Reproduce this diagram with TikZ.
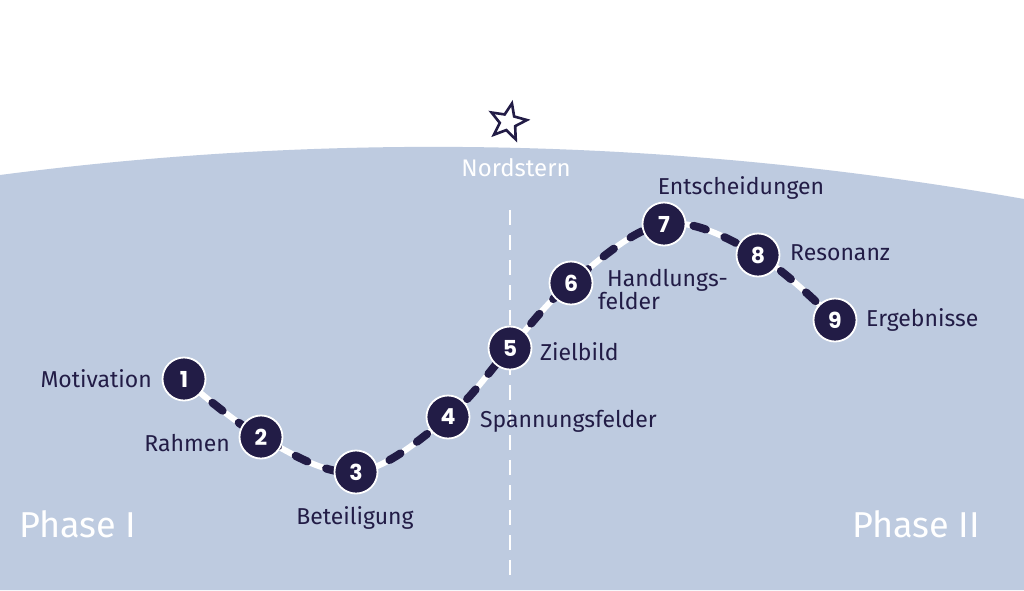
\documentclass[tikz,border=0pt]{standalone}
\usepackage{fontspec}
\usetikzlibrary{shapes.geometric}
\newfontfamily\handfont{Fira Sans}
\newfontfamily\numfont{Poppins}
\definecolor{bgblue}{HTML}{BECBE0}
\definecolor{navy}{HTML}{221C46}
\begin{document}
\begin{tikzpicture}[x=1pt,y=-1pt,
  stepnode/.style={circle, fill=navy, draw=white, line width=1.8pt, minimum size=43pt, inner sep=0pt, text=white, font=\numfont\bfseries\fontsize{22}{22}\selectfont},
  lbl/.style={text=navy, font=\handfont\fontsize{23}{23}\selectfont, inner sep=0pt},
  wlbl/.style={text=white, font=\handfont\fontsize{24}{24}\selectfont, inner sep=0pt},
  phaselbl/.style={text=white, font=\handfont\fontsize{36}{36}\selectfont, inner sep=0pt},
  pathwhite/.style={white, line width=6pt},
  pathdash/.style={navy, line width=8pt, line cap=round, dash pattern=on 13pt off 20pt, dash phase=-4pt},
  axisline/.style={white, line width=2.4pt, dash pattern=on 15pt off 10pt}
]
\useasboundingbox (0,0) rectangle (1024,590);
\fill[white] (0,0) rectangle (1024,590);
% blue hill
\fill[bgblue] (0,175) .. controls (342,130.5) and (685,139) .. (1024,199) -- (1024,590) -- (0,590) -- cycle;
% star
\node[star, star points=5, star point ratio=2.3, draw=navy, fill=white, line width=2.6pt, minimum size=38pt, rotate=-12, inner sep=0pt] (star) at (508,122) {};
\node[wlbl] (nord) at (516,168) {Nordstern};
% vertical divider
\coordinate (vtop) at (510,210);
\coordinate (vbot) at (510,580);
\draw[axisline] (vtop) -- (vbot);
% step coordinates
\coordinate (c1) at (184,379);
\coordinate (c2) at (261,437);
\coordinate (c3) at (356,472);
\coordinate (c4) at (448,417);
\coordinate (c5) at (510,348);
\coordinate (c6) at (571,283);
\coordinate (c7) at (664,224);
\coordinate (c8) at (758,255);
\coordinate (c9) at (835,320);
\draw[pathwhite] plot[smooth, tension=0.6] coordinates {(c1) (c2) (c3) (c4) (c5) (c6) (c7) (c8) (c9)};
\draw[pathdash] plot[smooth, tension=0.6] coordinates {(c1) (c2) (c3) (c4) (c5) (c6) (c7) (c8) (c9)};
% nodes
\node[stepnode] (n1) at (c1) {1};
\node[stepnode] (n2) at (c2) {2};
\node[stepnode] (n3) at (c3) {3};
\node[stepnode] (n4) at (c4) {4};
\node[stepnode] (n5) at (c5) {5};
\node[stepnode] (n6) at (c6) {6};
\node[stepnode] (n7) at (c7) {7};
\node[stepnode] (n8) at (c8) {8};
\node[stepnode] (n9) at (c9) {9};
% labels
\node[lbl, anchor=east] (l1) at (152,379) {Motivation};
\node[lbl, anchor=east] (l2) at (230,443) {Rahmen};
\node[lbl] (l3) at (355,518) {Beteiligung};
\node[lbl, anchor=west] (l4) at (480,421) {Spannungsfelder};
\node[lbl, anchor=west] (l5) at (540,352) {Zielbild};
\node[lbl, anchor=west, align=left] (l6) at (598,290) {\hspace*{9pt}Handlungs-\\felder};
\node[lbl] (l7) at (741,188) {Entscheidungen};
\node[lbl, anchor=west] (l8) at (790,253) {Resonanz};
\node[lbl, anchor=west] (l9) at (866,320) {Ergebnisse};
% phases
\node[phaselbl] (p1) at (78,524) {Phase I};
\node[phaselbl] (p2) at (916,524) {Phase II};
\end{tikzpicture}
\end{document}
